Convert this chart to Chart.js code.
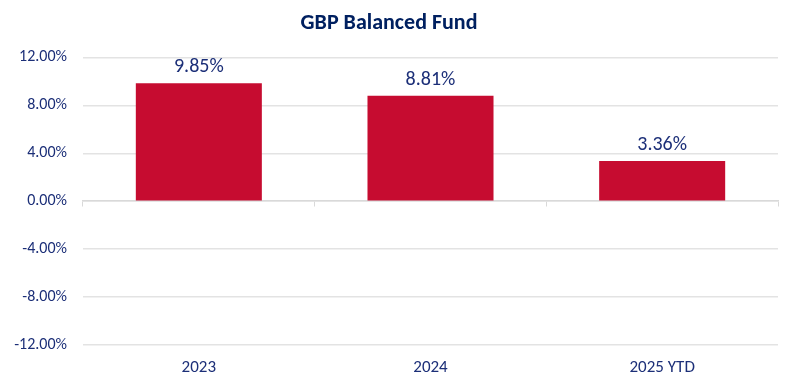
<!DOCTYPE html>
<html>
<head>
<meta charset="utf-8">
<script src="https://cdn.jsdelivr.net/npm/chart.js@4"></script>
<style>
  html, body { margin: 0; padding: 0; background: #fff; }
  #wrap { width: 792px; height: 387px; }
</style>
</head>
<body>
<div id="wrap"><canvas id="chart"></canvas></div>
<script>
// chart data
const categories = ['2023', '2024', '2025 YTD'];
const returns = [9.85, 8.81, 3.36];
const yTicks = [-12, -8, -4, 0, 4, 8, 12];

const navy = '#1c2f78';
const fontFam = 'Carlito, Lato, "Open Sans", sans-serif';

// labels above the bars
const valueLabels = {
  id: 'valueLabels',
  afterDatasetsDraw(chart) {
    const ctx = chart.ctx;
    const meta = chart.getDatasetMeta(0);
    ctx.save();
    ctx.font = '20px ' + fontFam;
    ctx.fillStyle = navy;
    ctx.textAlign = 'center';
    ctx.textBaseline = 'middle';
    meta.data.forEach((bar, i) => {
      ctx.fillText(returns[i].toFixed(2) + '%', bar.x, bar.y - 16);
    });
    ctx.restore();
  }
};

const ctx = document.getElementById('chart');
new Chart(ctx, {
  type: 'bar',
  data: {
    labels: categories,
    datasets: [{
      data: returns,
      backgroundColor: '#c60c30',
      borderWidth: 0,
      categoryPercentage: 1,
      barPercentage: 0.544,
      xAxisID: 'x'
    }]
  },
  options: {
    responsive: true,
    maintainAspectRatio: false,
    animation: false,
    layout: { padding: { top: 10, right: 14, bottom: 0, left: 0 } },
    plugins: {
      legend: { display: false },
      tooltip: { enabled: false },
      title: {
        display: true,
        text: 'GBP Balanced Fund',
        color: '#002060',
        font: { family: fontFam, size: 22, weight: 'bold' },
        padding: { top: 0, bottom: 21 }
      }
    },
    scales: {
      x: {
        position: 'bottom',
        afterFit: (scale) => { scale.height = 42; },
        grid: { display: false, drawTicks: false },
        border: { display: false },
        ticks: { color: navy, font: { family: fontFam, size: 17 }, padding: 13 }
      },
      xZero: {
        type: 'category',
        labels: categories,
        position: { y: 0 },
        offset: true,
        grid: { drawOnChartArea: false, drawTicks: true, tickLength: 5, color: '#d9d9d9', offset: true },
        border: { display: true, color: '#d9d9d9', width: 1.5 },
        ticks: { display: false }
      },
      y: {
        min: -12,
        max: 12,
        afterBuildTicks: (scale) => { scale.ticks = yTicks.map(v => ({ value: v })); },
        afterFit: (scale) => { scale.width = 83; },
        grid: { color: '#e3e3e3', lineWidth: 1.5, drawTicks: false },
        border: { display: false },
        ticks: {
          color: navy,
          padding: 16,
          font: { family: fontFam, size: 16 },
          callback: (v) => v.toFixed(2) + '%'
        }
      }
    }
  },
  plugins: [valueLabels]
});
</script>
</body>
</html>
